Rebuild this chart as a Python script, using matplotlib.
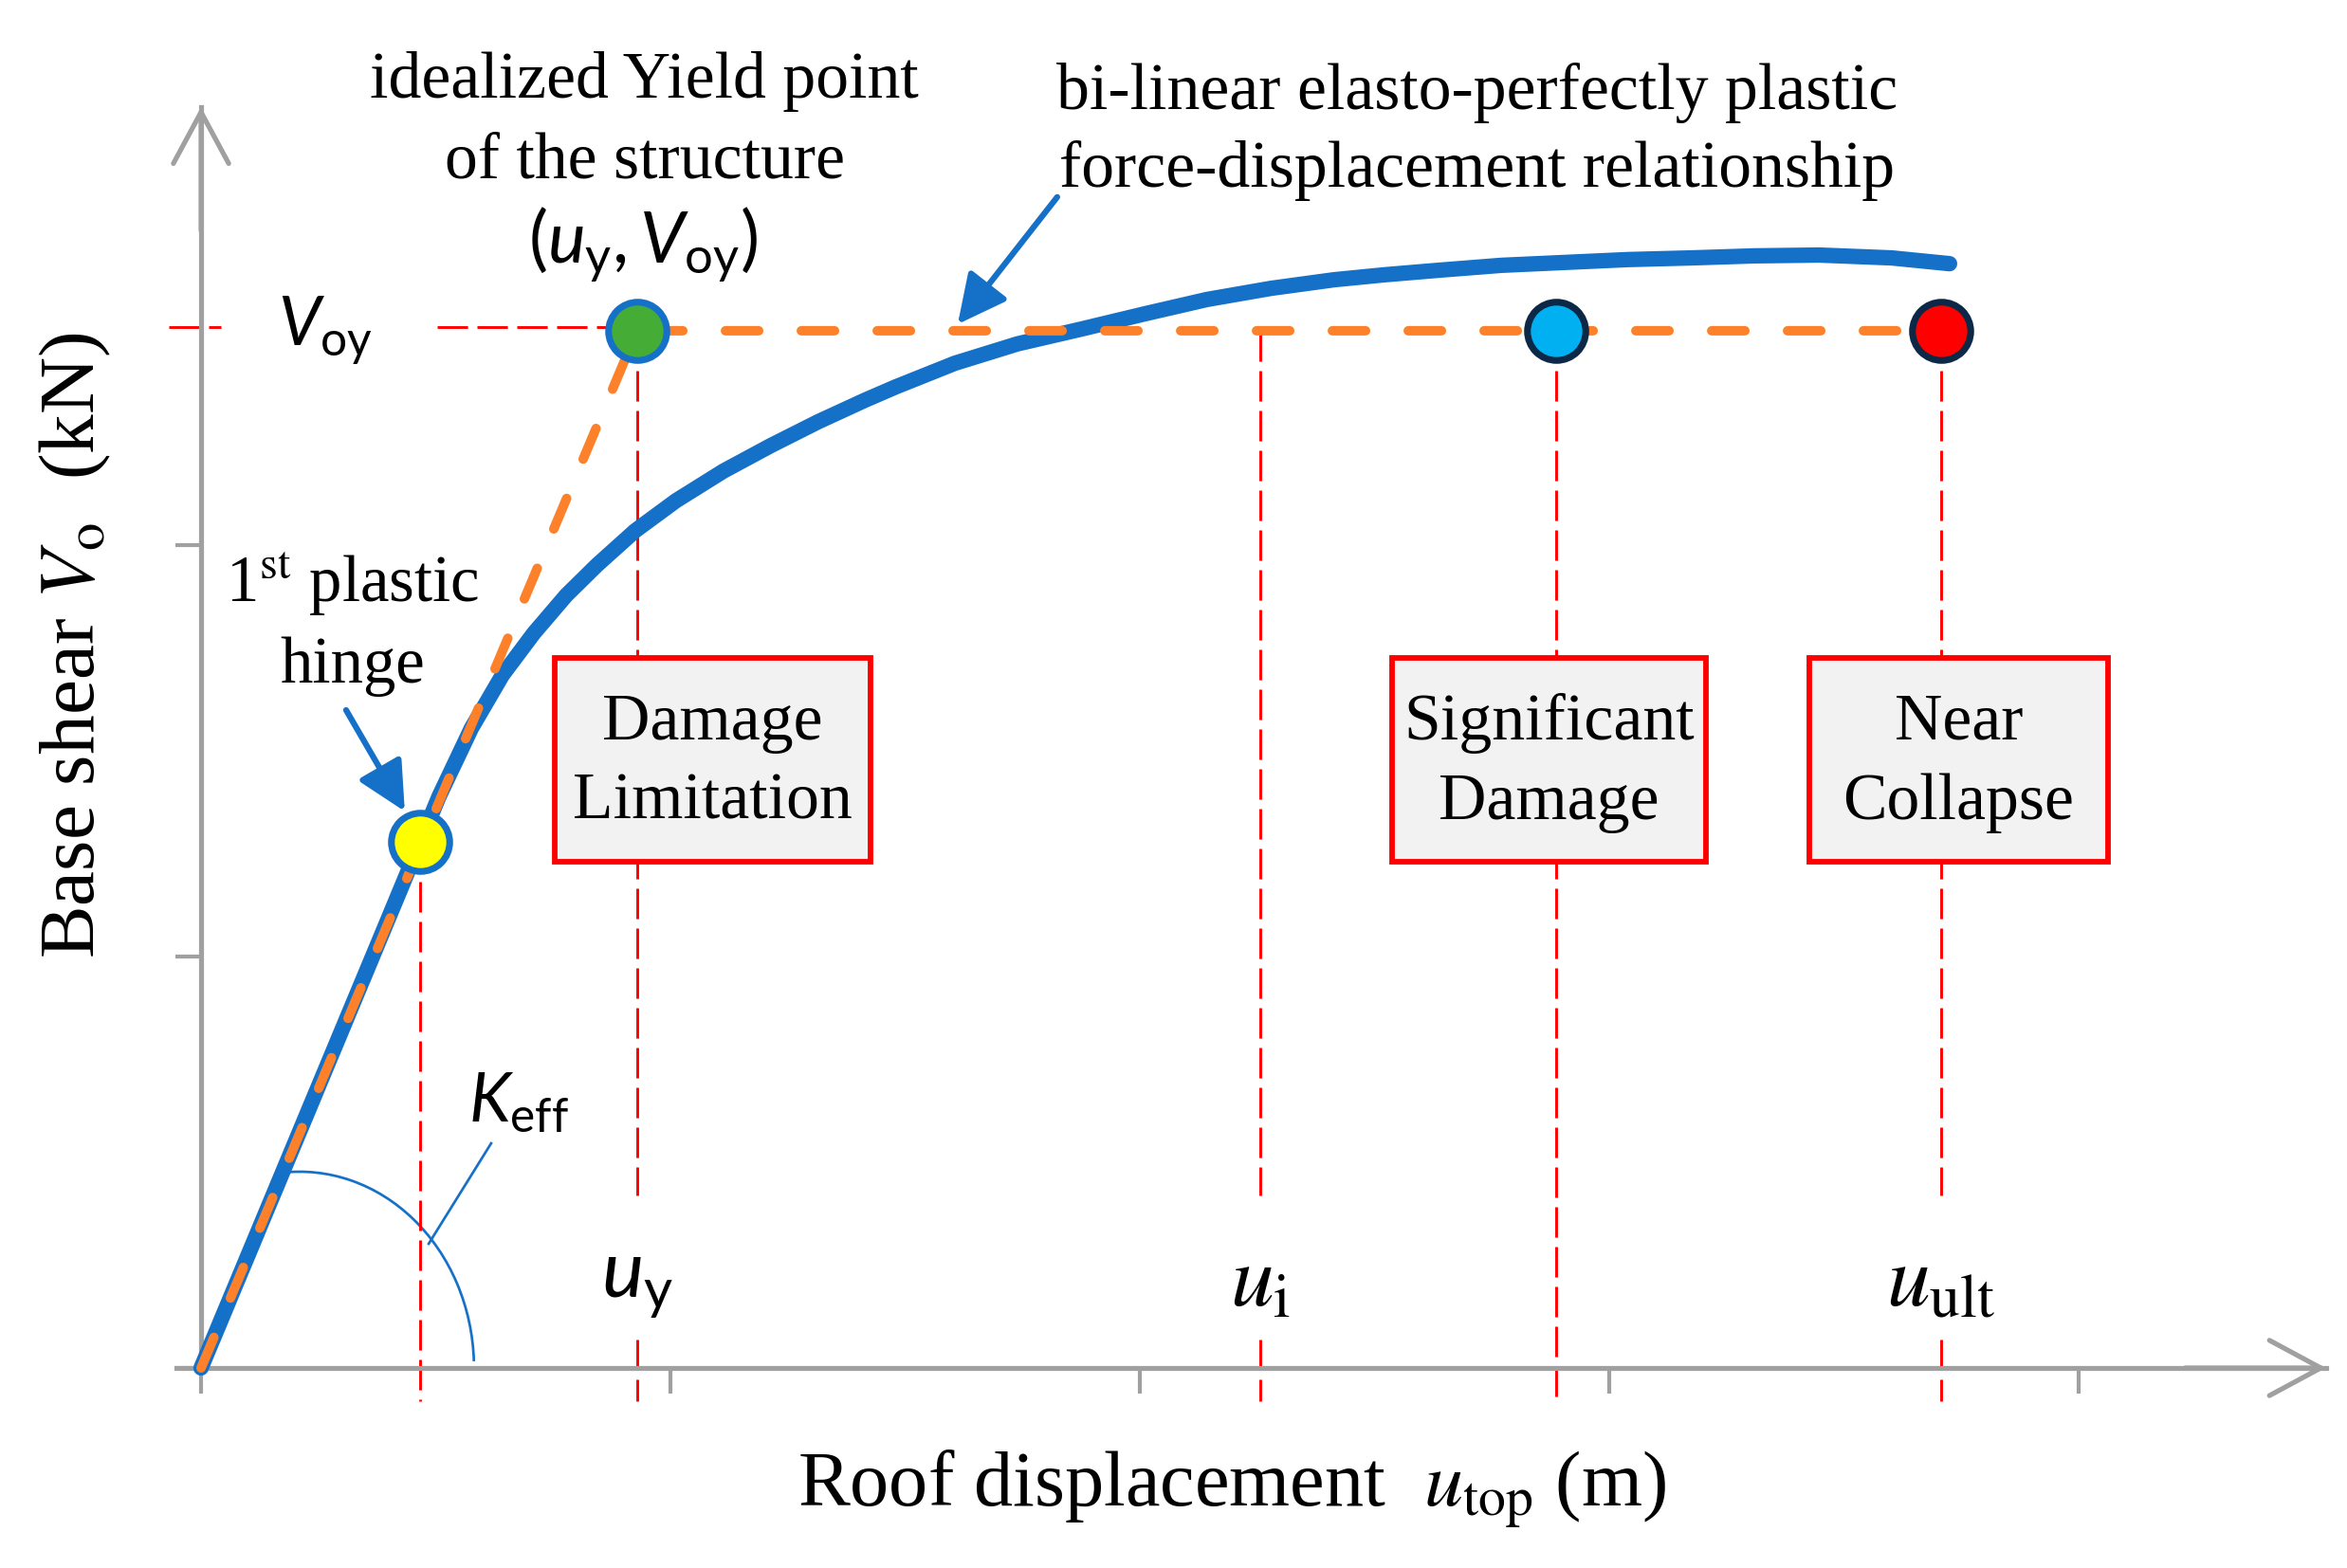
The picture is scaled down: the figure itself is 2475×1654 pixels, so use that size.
import matplotlib
matplotlib.use("Agg")
import matplotlib.pyplot as plt
from matplotlib import font_manager
from matplotlib.patches import Arc, Rectangle

# pushover curve (x: roof displacement, y: base shear, arbitrary units)
curve_u = [0, 0.384, 0.467, 0.507, 0.576, 0.642, 0.709, 0.778, 0.844, 0.925, 1.012,
           1.113, 1.214, 1.315, 1.416, 1.481, 1.606, 1.739, 1.875, 2.010, 2.143,
           2.279, 2.414, 2.521, 2.636, 2.770, 2.905, 3.040, 3.174, 3.309, 3.447,
           3.602, 3.725]
curve_V = [0, 1.051, 1.279, 1.389, 1.555, 1.684, 1.786, 1.878, 1.952, 2.035, 2.108,
           2.180, 2.242, 2.300, 2.353, 2.385, 2.442, 2.489, 2.525, 2.562, 2.597,
           2.624, 2.645, 2.657, 2.668, 2.680, 2.687, 2.694, 2.698, 2.703, 2.705,
           2.698, 2.684]

# characteristic points
u_hinge, V_hinge = 0.467, 1.279     # 1st plastic hinge
u_y, V_oy = 0.929, 2.521            # idealized yield point
u_i = 2.257
u_sd = 2.887                        # significant damage
u_ult = 3.707                       # near collapse

x_ticks = [0, 1, 2, 3, 4]
y_ticks = [0, 1, 2]

limit_states = ["Damage\nLimitation", "Significant\nDamage", "Near\nCollapse"]
state_spans = [(0.754, 1.426), (2.537, 3.206), (3.426, 4.063)]

BLUE = "#1570c8"
ORANGE = "#fd812b"
GRAY = "#a0a0a0"
NAVY = "#0c2846"


def has_italic(name):
    return any(f.name == name and f.style in ("italic", "oblique")
               for f in font_manager.fontManager.ttflist)


sans = next((f for f in ["Lato", "Open Sans", "Noto Sans", "DejaVu Sans"] if has_italic(f)),
            "DejaVu Sans")
plt.rcParams["font.family"] = "Liberation Serif"
plt.rcParams["mathtext.fontset"] = "custom"
plt.rcParams["mathtext.rm"] = sans
plt.rcParams["mathtext.it"] = sans + ":italic"

fig = plt.figure(figsize=(16.5, 11.0267), dpi=150)
ax = fig.add_axes([0, 0, 1, 1])
ax.set_xlim(-0.4283, 4.5717)
ax.set_ylim(-0.4862, 3.3249)

# axes as arrows
x_tip, y_tip = 4.527, 3.065
for s in ["top", "right"]:
    ax.spines[s].set_visible(False)
ax.spines["left"].set_position(("data", 0))
ax.spines["bottom"].set_position(("data", 0))
ax.spines["left"].set_bounds(0, y_tip)
ax.spines["bottom"].set_bounds(-0.053, x_tip)
for s in ["left", "bottom"]:
    ax.spines[s].set_color(GRAY)
    ax.spines[s].set_linewidth(2.5)
ax.set_xticks(x_ticks)
ax.set_yticks(y_ticks)
ax.tick_params(length=13, width=2, color=GRAY, direction="out",
               labelbottom=False, labelleft=False)
head = dict(arrowstyle="->,head_length=26,head_width=14", color=GRAY, lw=2.5,
            mutation_scale=1, shrinkA=0, shrinkB=0)
ax.annotate("", xy=(0, y_tip), xytext=(0, y_tip - 0.3), arrowprops=head)
ax.annotate("", xy=(x_tip, 0), xytext=(x_tip - 0.3, 0), arrowprops=head)

# red dashed guide lines
below, gap_lo, gap_hi = -0.08, 0.07, 0.42
dash_kw = dict(color="red", lw=1.4, dashes=(11, 3.4), zorder=2)
ax.plot([u_hinge, u_hinge], [V_hinge, below], **dash_kw)
ax.plot([u_sd, u_sd], [V_oy, below], **dash_kw)
for u in (u_y, u_i, u_ult):
    ax.plot([u, u], [V_oy, gap_hi], **dash_kw)
    ax.plot([u, u], [gap_lo, below], **dash_kw)
ax.plot([-0.069, 0.042], [V_oy + 0.008, V_oy + 0.008], **dash_kw)
ax.plot([0.503, u_y], [V_oy + 0.008, V_oy + 0.008], **dash_kw)

# capacity curve and bilinear idealization
ax.plot(curve_u, curve_V, color=BLUE, lw=7.8, solid_capstyle="round",
        solid_joinstyle="round", zorder=3)
ax.plot([0, u_y, u_ult], [0, V_oy, V_oy], color=ORANGE, lw=4.8, dashes=(3.5, 4.5),
        dash_capstyle="round", zorder=4)

# limit state boxes
y0, y1 = 1.230, 1.726
for label, (a, b) in zip(limit_states, state_spans):
    ax.add_patch(Rectangle((a, y0), b - a, y1 - y0, fc="#f2f2f2", ec="red", lw=2.8, zorder=5))
    ax.text((a + b) / 2, (y0 + y1) / 2 - 0.008, label, ha="center", va="center",
            fontsize=33.5, linespacing=1.42, zorder=6)

# points
mk = dict(marker="o", ms=29.5, mew=3.4, ls="none", zorder=7)
ax.plot([u_hinge], [V_hinge], mfc="#ffff00", mec=BLUE, **mk)
ax.plot([u_y], [V_oy], mfc="#45ad35", mec=BLUE, **mk)
ax.plot([u_sd], [V_oy], mfc="#00b0f0", mec=NAVY, **mk)
ax.plot([u_ult], [V_oy], mfc="#ff0000", mec=NAVY, **mk)

# annotations
callout = dict(arrowstyle="-|>,head_length=2.1,head_width=1.05", color=BLUE, lw=3,
               mutation_scale=10, shrinkA=0, shrinkB=0)
ax.annotate("", xy=(1.612, 2.537), xytext=(1.824, 2.846), arrowprops=callout, zorder=8)
ax.annotate("", xy=(0.434, 1.353), xytext=(0.309, 1.599), arrowprops=callout, zorder=8)
ax.plot([0.618, 0.485], [0.546, 0.302], color=BLUE, lw=1.3)
ax.add_patch(Arc((0.210, 0), 0.743, 0.954, theta1=2.5, theta2=95, color=BLUE, lw=1.3))

ax.text(0.945, 3.088, "idealized Yield point", ha="center", va="baseline", fontsize=33.5)
ax.text(0.945, 2.894, "of the structure", ha="center", va="baseline", fontsize=33.5)
ax.text(0.941, 2.687, r"$(u_{\rm y},V_{\rm oy})$", ha="center", va="baseline", fontsize=36)
ax.text(2.719, 3.060, "bi-linear elasto-perfectly plastic", ha="center", va="baseline",
        fontsize=33.5)
ax.text(2.719, 2.871, "force-displacement relationship", ha="center", va="baseline",
        fontsize=33.5)
ax.text(0.164, 2.484, r"$V_{\rm oy}$", ha="left", va="baseline", fontsize=34)
ax.text(0.323, 1.859, r"1$^{\rm st}$ plastic", ha="center", va="baseline", fontsize=33,
        math_fontfamily="stix")
ax.text(0.323, 1.666, "hinge", ha="center", va="baseline", fontsize=33)
ax.text(0.57, 0.599, r"$K_{\rm eff}$", ha="left", va="baseline", fontsize=34)
ax.text(u_y, 0.172, r"$u_{\rm y}$", ha="center", va="baseline", fontsize=40)
ax.text(u_i, 0.152, r"$u_{\rm i}$", ha="center", va="baseline", fontsize=44,
        math_fontfamily="stix")
ax.text(u_ult, 0.152, r"$u_{\rm ult}$", ha="center", va="baseline", fontsize=44,
        math_fontfamily="stix")

ax.text(2.196, -0.336, r"Roof displacement  $u_{\rm top}$ (m)", ha="center", va="baseline",
        fontsize=39.5, math_fontfamily="stix")
ax.text(-0.267, 1.758, r"Base shear $V_{\rm o}$  (kN)", rotation=90, ha="center",
        va="center", fontsize=40, math_fontfamily="stix")

fig.savefig("out.png", dpi=150)
